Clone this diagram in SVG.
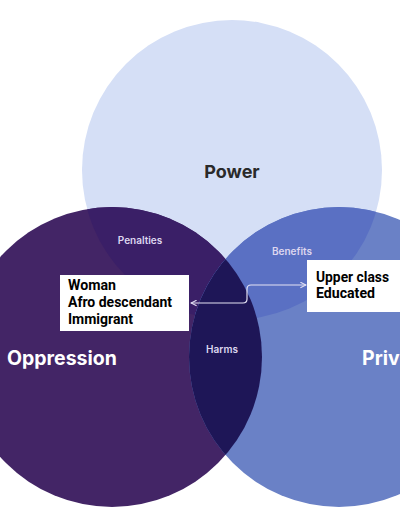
<svg xmlns="http://www.w3.org/2000/svg" width="400" height="516" viewBox="0 0 400 516">
<style>
.lbl{font-family:Inter,"Liberation Sans",sans-serif;font-weight:700;}
.small{font-family:Inter,"Liberation Sans",sans-serif;font-size:10px;font-weight:600;fill:#ddd6ef;text-anchor:middle;}
.box{fill:#ffffff;}
.btxt{font-family:Roboto,"Liberation Sans",Arial,sans-serif;font-weight:700;font-size:14px;fill:#000;}
.conn{fill:none;stroke:#e4e2f4;stroke-width:1.2;}
</style>
<defs>
<clipPath id="cPow"><circle cx="232" cy="170" r="150"/></clipPath>
<clipPath id="cOpp"><circle cx="112" cy="357" r="150"/></clipPath>
<clipPath id="cPriv"><circle cx="339" cy="357" r="150"/></clipPath>
<marker id="arr" viewBox="0 0 10 10" refX="9" refY="5" markerWidth="7" markerHeight="7" orient="auto-start-reverse" markerUnits="userSpaceOnUse">
<path d="M1,1 L9,5 L1,9" fill="none" stroke="#e4e2f4" stroke-width="1.5"/>
</marker>
</defs>
<rect width="400" height="516" fill="#ffffff"/>
<g id="power">
<circle cx="232" cy="170" r="150" fill="#d5dff6"/>
<text class="lbl" x="232" y="178" font-size="18" fill="#2a2a2a" text-anchor="middle">Power</text>
</g>
<g id="oppression">
<circle cx="112" cy="357" r="150" fill="#432566"/>
<circle cx="232" cy="170" r="150" fill="#3a1f67" clip-path="url(#cOpp)"/>
<text class="lbl" x="7" y="365" font-size="19.5" fill="#ffffff">Oppression</text>
</g>
<g id="privilege">
<circle cx="339" cy="357" r="150" fill="#6a81c6"/>
<circle cx="232" cy="170" r="150" fill="#5a70c3" clip-path="url(#cPriv)"/>
<circle cx="112" cy="357" r="150" fill="#1e1657" clip-path="url(#cPriv)"/>
<text class="lbl" x="362" y="365" font-size="19.5" fill="#ffffff">Privilege</text>
</g>
<g id="region-labels">
<text class="small" x="140" y="244">Penalties</text>
<text class="small" x="292" y="255">Benefits</text>
<text class="small" x="222" y="353">Harms</text>
</g>
<g id="connectors">
<path class="conn" d="M191,303 H243 Q247,303 247,299 V289 Q247,285 251,285 H306" marker-start="url(#arr)" marker-end="url(#arr)"/>
</g>
<g id="box-left">
<rect class="box" x="60" y="275" width="129" height="56"/>
<text class="btxt" x="68" y="290" textLength="48" lengthAdjust="spacingAndGlyphs">Woman</text>
<text class="btxt" x="68" y="307" textLength="104" lengthAdjust="spacingAndGlyphs">Afro descendant</text>
<text class="btxt" x="68" y="324" textLength="65" lengthAdjust="spacingAndGlyphs">Immigrant</text>
</g>
<g id="box-right">
<rect class="box" x="307" y="260" width="100" height="52"/>
<text class="btxt" x="316" y="282" textLength="73" lengthAdjust="spacingAndGlyphs">Upper class</text>
<text class="btxt" x="316" y="298" textLength="59" lengthAdjust="spacingAndGlyphs">Educated</text>
</g>
</svg>
